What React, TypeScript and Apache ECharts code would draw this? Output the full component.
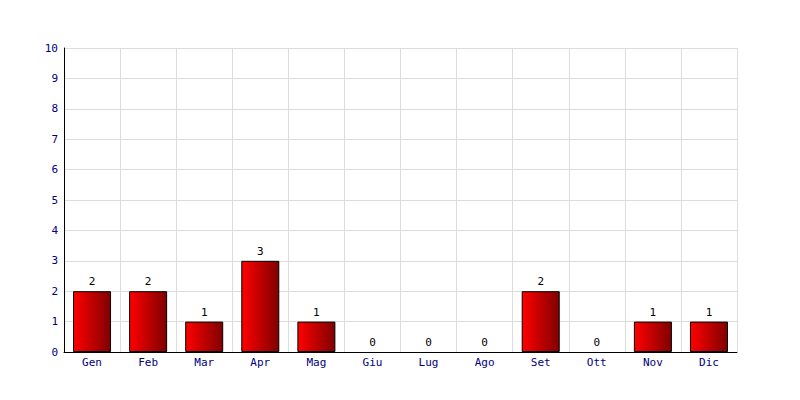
import React, { useEffect, useRef } from "react";
import * as echarts from "echarts";

const categories = ["Gen", "Feb", "Mar", "Apr", "Mag", "Giu", "Lug", "Ago", "Set", "Ott", "Nov", "Dic"];
const values = [2, 2, 1, 3, 1, 0, 0, 0, 2, 0, 1, 1];

export default function App() {
  const ref = useRef<HTMLDivElement>(null);
  useEffect(() => {
    const chart = echarts.init(ref.current!, null, { renderer: "svg" });
    const font = "'DejaVu Sans Mono', monospace";
    chart.setOption({
      animation: false,
      backgroundColor: "#ffffff",
      grid: { left: 64, right: 63, top: 48, bottom: 48 },
      xAxis: {
        type: "category",
        data: categories,
        axisLine: { lineStyle: { color: "#000000", width: 1 } },
        axisTick: { show: false },
        axisLabel: { color: "#000080", fontFamily: font, fontSize: 11, margin: 5 },
        splitLine: { show: true, lineStyle: { color: "#dcdcdc", width: 1 } },
      },
      yAxis: {
        type: "value",
        min: 0,
        max: 10,
        interval: 1,
        axisLine: { show: true, lineStyle: { color: "#000000", width: 1 } },
        axisTick: { show: false },
        axisLabel: { color: "#000080", fontFamily: font, fontSize: 11, margin: 6 },
        splitLine: { show: true, lineStyle: { color: "#dcdcdc", width: 1 } },
      },
      series: [
        {
          type: "bar",
          data: values.map((v) => ({
            value: v,
            itemStyle: v === 0 ? { borderWidth: 0 } : undefined,
          })),
          barWidth: 38,
          itemStyle: {
            color: new echarts.graphic.LinearGradient(0, 0, 1, 0, [
              { offset: 0, color: "#ff0000" },
              { offset: 1, color: "#800000" },
            ]),
            borderColor: "#000000",
            borderWidth: 1,
          },
          label: {
            show: true,
            position: "top",
            color: "#000000",
            fontFamily: font,
            fontSize: 11,
            distance: 4,
          },
        },
      ],
    });
    return () => chart.dispose();
  }, []);
  return <div ref={ref} style={{ width: 800, height: 400, margin: -8 }} />;
}
